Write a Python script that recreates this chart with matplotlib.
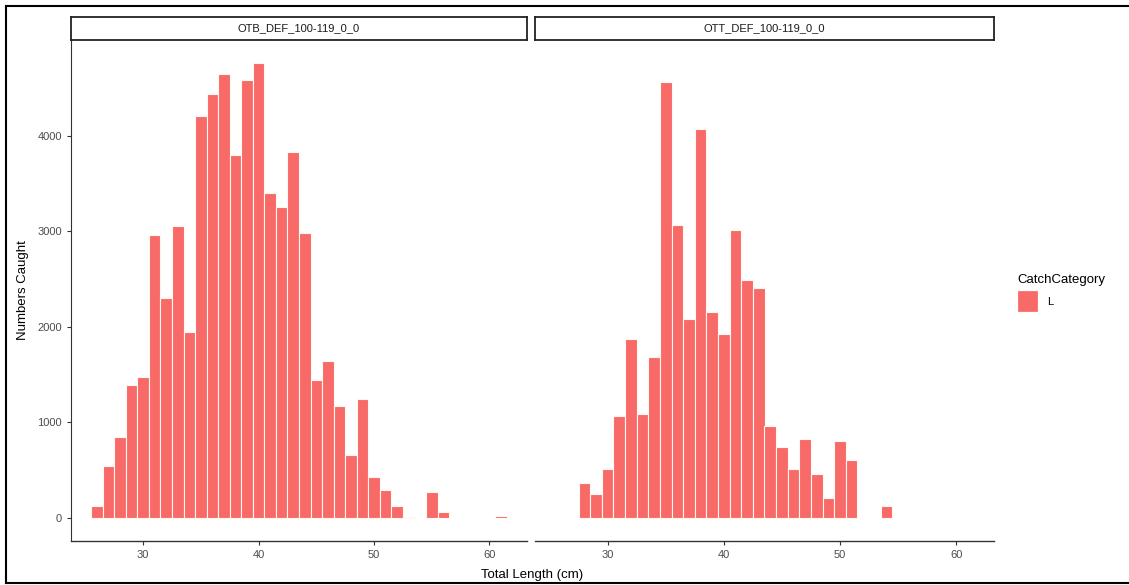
import matplotlib.pyplot as plt
from matplotlib.patches import Rectangle
from matplotlib.lines import Line2D

plt.rcParams['font.family'] = ['Liberation Sans', 'DejaVu Sans']

# length-frequency data per gear (1 cm classes)
otb_lengths = [26, 27, 28, 29, 30, 31, 32, 33, 34, 35, 36, 37, 38, 39, 40, 41, 42, 43, 44,
               45, 46, 47, 48, 49, 50, 51, 52, 53, 55, 56, 61]
otb_counts = [130, 540, 850, 1390, 1480, 2960, 2300, 3050, 1950, 4200, 4430, 4640, 3800,
              4580, 4760, 3400, 3250, 3830, 2980, 1440, 1640, 1170, 660, 1240, 430, 290,
              130, 15, 270, 60, 20]

ott_lengths = [28, 29, 30, 31, 32, 33, 34, 35, 36, 37, 38, 39, 40, 41, 42, 43, 44, 45, 46,
               47, 48, 49, 50, 51, 54]
ott_counts = [370, 250, 510, 1070, 1870, 1090, 1680, 4560, 3060, 2080, 4070, 2150, 1920,
              3010, 2490, 2410, 960, 740, 510, 830, 460, 210, 810, 610, 130]

panel_titles = ['OTB_DEF_100-119_0_0', 'OTT_DEF_100-119_0_0']
x_ticks = [30, 40, 50, 60]
y_ticks = [0, 1000, 2000, 3000, 4000]
fill = '#F86A67'
grey = '#4D4D4D'

W, H = 1129, 585
fig = plt.figure(figsize=(W / 100, H / 100), dpi=100)

panels = [(71, 527), (535, 994)]
top_px, bot_px = 40, 541
data = [(otb_lengths, otb_counts), (ott_lengths, ott_counts)]

for i, ((x0, x1), (lens, cnts), title) in enumerate(zip(panels, data, panel_titles)):
    ax = fig.add_axes([x0 / W, 1 - bot_px / H, (x1 - x0) / W, (bot_px - top_px) / H])
    ax.bar(lens, cnts, width=1.0, color=fill, edgecolor='#FFF8F0', linewidth=0.8)
    ax.set_xlim(23.75, 63.25)
    ax.set_ylim(-240, 5000)
    for s in ['top', 'right']:
        ax.spines[s].set_visible(False)
    ax.spines['bottom'].set_color('#333333')
    ax.spines['bottom'].set_linewidth(1.0)
    ax.set_xticks(x_ticks)
    ax.tick_params(axis='x', colors='#333333', labelcolor=grey, labelsize=8, length=3, width=0.8)
    if i == 0:
        ax.spines['left'].set_color('#333333')
        ax.set_yticks(y_ticks)
        ax.tick_params(axis='y', colors='#333333', labelcolor=grey, labelsize=8, length=3, width=0.8)
        ax.set_ylabel('Numbers Caught', fontsize=9.5, color='black', labelpad=6)
    else:
        ax.spines['left'].set_visible(False)
        ax.set_yticks([])

    # facet strip
    sax = fig.add_axes([x0 / W, 1 - top_px / H, (x1 - x0) / W, 23 / H])
    sax.set_xticks([])
    sax.set_yticks([])
    for s in sax.spines.values():
        s.set_linewidth(1.3)
        s.set_color('#222222')
    sax.text(0.5, 0.5, title, ha='center', va='center', fontsize=8, color='#1A1A1A',
             transform=sax.transAxes)

fig.text(532 / W, 1 - 575 / H, 'Total Length (cm)', ha='center', va='center', fontsize=9.5)

# legend
fig.text(1017 / W, 1 - 280 / H, 'CatchCategory', ha='left', va='center', fontsize=9.5)
fig.patches.append(Rectangle((1017 / W, 1 - 312 / H), 21 / W, 22 / H, transform=fig.transFigure,
                             facecolor=fill, edgecolor='white', linewidth=0.9))
fig.text(1047 / W, 1 - 302 / H, 'L', ha='left', va='center', fontsize=8, color='black')

# outer frame
for xs, ys in [([6, 6], [6, 583]), ([6, W], [6, 6]), ([6, W], [583, 583])]:
    fig.add_artist(Line2D([x / W for x in xs], [1 - y / H for y in ys],
                          transform=fig.transFigure, color='black', linewidth=1.5))

fig.savefig('out.png', dpi=100)
